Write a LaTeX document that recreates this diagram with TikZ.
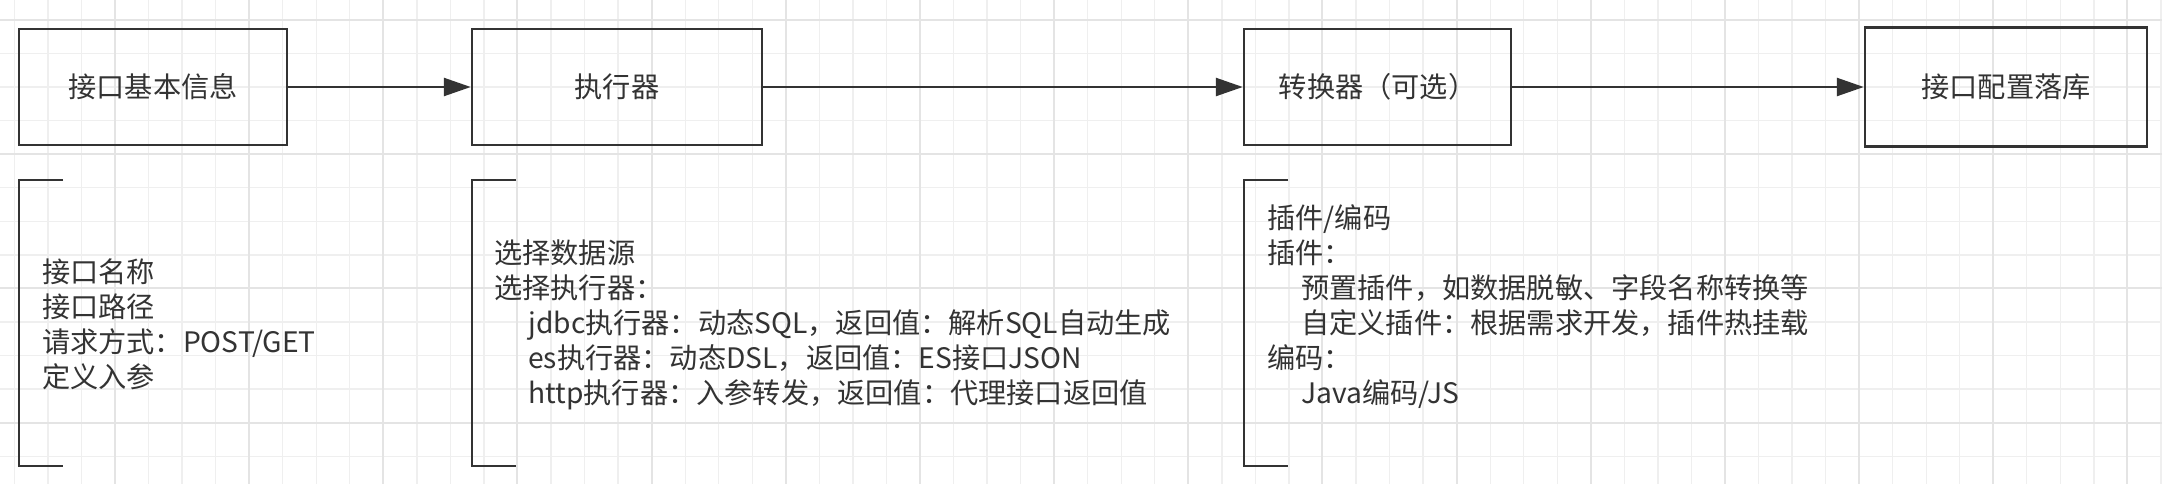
\documentclass[tikz,border=0pt]{standalone}
\usepackage{fontspec}
\setmainfont{Noto Sans CJK SC}
\usetikzlibrary{arrows.meta}
\definecolor{ink}{HTML}{333333}
\definecolor{gridminor}{HTML}{EFEFEF}
\definecolor{gridmajor}{HTML}{E4E4E4}
\newcommand{\ind}{\hspace*{0.68cm}}

\begin{document}
\begin{tikzpicture}[x=0.02cm, y=-0.02cm,
    font=\fontsize{16.05pt}{19.9pt}\selectfont,
    box/.style={draw=ink, line width=0.05cm, minimum height=2.32cm, text=ink, inner sep=0pt},
    note/.style={anchor=west, align=left, inner sep=0pt, text=ink},
    flow/.style={draw=ink, line width=0.05cm, -{Triangle[length=0.54cm, width=0.36cm]}},
    brk/.style={draw=ink, line width=0.05cm}]
    \useasboundingbox (0,0) rectangle (2162,484);
    \fill[white] (0,0) rectangle (2162,484);
    \begin{scope}
    \clip (0,0) rectangle (2162,484);
    % background grid
    \foreach \i in {0,...,64}
        \draw[gridminor, line width=0.026cm] ({14.4+33.54*\i},0) -- ({14.4+33.54*\i},484);
    \foreach \j in {0,...,13}
        \draw[gridminor, line width=0.026cm] (0,{20+33.55*\j}) -- (2162,{20+33.55*\j});
    \foreach \i in {0,...,15}
        \draw[gridmajor, line width=0.04cm] ({115+134.16*\i},0) -- ({115+134.16*\i},484);
    \foreach \j in {0,...,3}
        \draw[gridmajor, line width=0.04cm] (0,{20+134.2*\j}) -- (2162,{20+134.2*\j});
    \end{scope}

    % steps
    \node (info) [box, minimum width=5.36cm] at (153,87) {接口基本信息};
    \node (exec) [box, minimum width=5.8cm] at (617,87) {执行器};
    \node (conv) [box, minimum width=5.34cm] at (1377.5,87) {转换器（可选）};
    \node (store) [box, minimum width=5.64cm, minimum height=2.38cm] at (2006,87) {接口配置落库};
    \draw[flow] (info) -- (exec);
    \draw[flow] (exec) -- (conv);
    \draw[flow] (conv) -- (store);

    % notes
    \foreach \bx in {19,472,1244}
        \draw[brk] (\bx+44,180) -| (\bx,466) -- (\bx+44,466);
    \node (basic) [note] at (41.7,324) {接口名称\\接口路径\\请求方式：POST/GET\\定义入参};
    \node (choose) [note] at (494,325) {选择数据源\\选择执行器：\\
        \ind jdbc执行器：动态SQL，返回值：解析SQL自动生成\\
        \ind es执行器：动态DSL，返回值：ES接口JSON\\
        \ind http执行器：入参转发，返回值：代理接口返回值};
    \node (plugin) [note] at (1267,306.5) {插件/编码\\插件：\\
        \ind 预置插件，如数据脱敏、字段名称转换等\\
        \ind 自定义插件：根据需求开发，插件热挂载\\
        编码：\\
        \ind Java编码/JS};
\end{tikzpicture}
\end{document}
